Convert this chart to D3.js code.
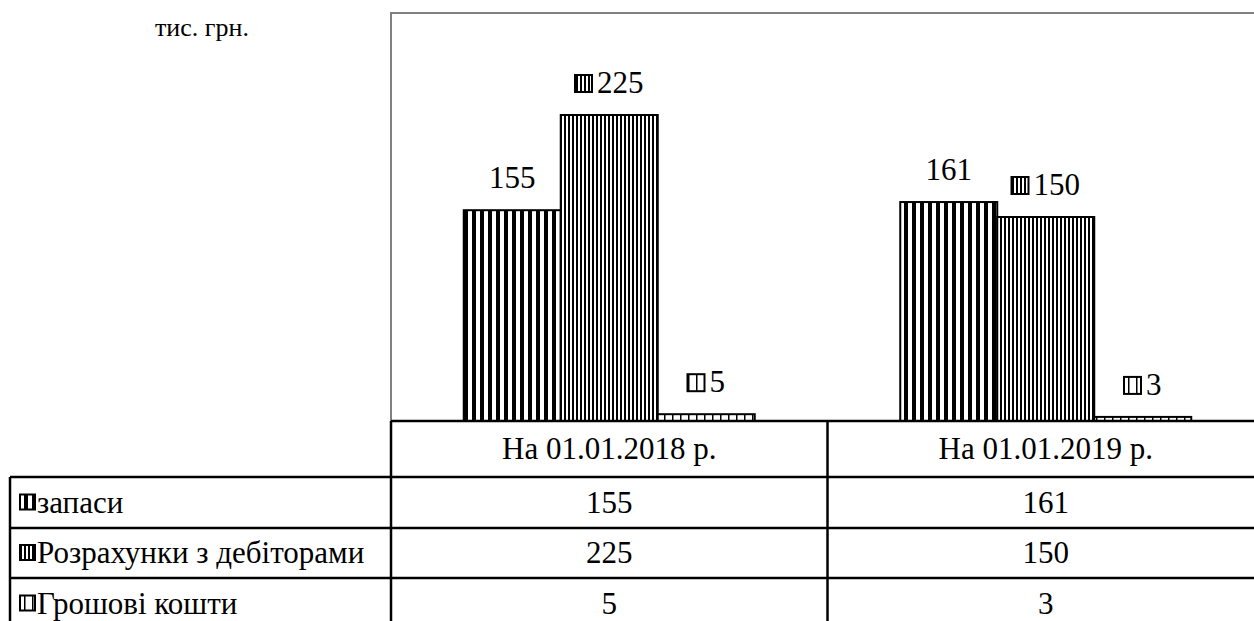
<!DOCTYPE html>
<html>
<head>
<meta charset="utf-8">
<script src="https://cdn.jsdelivr.net/npm/d3@7"></script>
</head>
<body style="margin:0">
<svg id="chart" width="1254" height="621"></svg>
<script>
// Categories (table columns) and series (table rows)
const categories = ["На 01.01.2018 р.", "На 01.01.2019 р."];
const seriesNames = ["запаси", "Розрахунки з дебіторами", "Грошові кошти"];
const zapasy = [155, 161];
const debitory = [225, 150];
const hroshi = [5, 3];
const seriesValues = [zapasy, debitory, hroshi];
const seriesPatterns = ["pat-wide", "pat-narrow", "pat-thin"];
const labelWithKey = [false, true, true];
const unitLabel = "тис. грн.";
const yDomain = [0, 300];

const faces = ["Liberation Serif"];
const FS = 31;
const svg = d3.select("#chart");
const W = 1254;

// Geometry of plot area + data table
const plotLeft = 391, plotTop = 13, baseY = 421;
const catWidth = 436.5;
const tableLeft = 10;
const rowLines = [421, 477, 528, 578];
const rowBottom = 640;

// Text helper: serif face, black
function txt(sel, size) {
  const f = faces[0];
  return sel.attr("font-size", size).style("font-family", `"${f}"`).attr("fill", "#000");
}

// Fill patterns
const defs = svg.append("defs");
function stripePattern(id, period, stripeW) {
  const p = defs.append("pattern")
    .attr("id", id).attr("patternUnits", "userSpaceOnUse")
    .attr("width", period).attr("height", 10);
  p.append("rect").attr("width", period).attr("height", 10).attr("fill", "#fff");
  p.append("rect").attr("x", 0).attr("width", stripeW).attr("height", 10).attr("fill", "#000");
}
stripePattern("pat-wide", 8, 4);
stripePattern("pat-narrow", 4, 2);
stripePattern("pat-thin", 8, 1.5);

const x = d3.scaleBand().domain(categories).range([plotLeft, plotLeft + catWidth * categories.length]);
const xs = d3.scaleBand().domain(d3.range(seriesNames.length))
  .range([0, x.bandwidth()]).paddingInner(0).paddingOuter(0.75);
const y = d3.scaleLinear().domain(yDomain).range([baseY, plotTop]);

// Plot area frame (gray)
svg.append("path")
  .attr("d", `M${plotLeft},${baseY} V${plotTop} H${W + 10}`)
  .attr("fill", "none").attr("stroke", "#808080").attr("stroke-width", 2);

// Unit caption
txt(svg.append("text").attr("x", 155).attr("y", 36), 26).text(unitLabel);

// Bars
seriesValues.forEach((vals, si) => {
  svg.append("g").selectAll("rect").data(vals).join("rect")
    .attr("x", (d, i) => x(categories[i]) + xs(si))
    .attr("y", d => y(d))
    .attr("width", xs.bandwidth())
    .attr("height", d => y(0) - y(d))
    .attr("fill", `url(#${seriesPatterns[si]})`)
    .attr("stroke", "#000").attr("stroke-width", 2);
});

// Key swatch: box filled with the series pattern
function keyBox(g, x0, y0, size, si) {
  g.append("rect").attr("x", x0).attr("y", y0).attr("width", size).attr("height", size)
    .attr("fill", `url(#${seriesPatterns[si]})`);
  g.append("rect").attr("x", x0).attr("y", y0).attr("width", size).attr("height", size)
    .attr("fill", "none").attr("stroke", "#000").attr("stroke-width", 2);
}

// Data labels (digits advance by half an em)
const keySize = 17, keyGap = 5;
seriesValues.forEach((vals, si) => {
  vals.forEach((v, i) => {
    const cx = x(categories[i]) + xs(si) + xs.bandwidth() / 2;
    const by = y(v) - 22;
    const g = svg.append("g");
    const t = txt(g.append("text").attr("y", by), FS).text(v);
    if (labelWithKey[si]) {
      const tw = String(v).length * FS * 0.5;
      const total = keySize + keyGap + tw;
      const x0 = cx - total / 2;
      keyBox(g, x0, by - keySize - 1, keySize, si);
      t.attr("x", x0 + keySize + keyGap);
    } else {
      t.attr("x", cx).attr("text-anchor", "middle");
    }
  });
});

// Data table
const tbl = svg.append("g").attr("stroke", "#000").attr("stroke-width", 2.5).attr("fill", "none");
tbl.append("line").attr("x1", plotLeft).attr("x2", W + 10).attr("y1", rowLines[0]).attr("y2", rowLines[0]);
rowLines.slice(1).forEach(ry => {
  tbl.append("line").attr("x1", tableLeft).attr("x2", W + 10).attr("y1", ry).attr("y2", ry);
});
tbl.append("line").attr("x1", tableLeft).attr("x2", tableLeft).attr("y1", rowLines[1]).attr("y2", rowBottom);
categories.forEach(c => {
  tbl.append("line").attr("x1", x(c)).attr("x2", x(c)).attr("y1", rowLines[0]).attr("y2", rowBottom);
});
tbl.append("line").attr("x1", x(categories[1]) + x.bandwidth()).attr("x2", x(categories[1]) + x.bandwidth())
  .attr("y1", rowLines[0]).attr("y2", rowBottom);

const rowTops = [rowLines[0], rowLines[1], rowLines[2], rowLines[3]];
const rowBottoms = [rowLines[1], rowLines[2], rowLines[3], rowLines[3] + 51];
const textOff = 10;

// Header row: category names
categories.forEach(c => {
  txt(svg.append("text")
    .attr("x", x(c) + x.bandwidth() / 2)
    .attr("y", (rowTops[0] + rowBottoms[0]) / 2 + textOff)
    .attr("text-anchor", "middle"), FS)
    .text(c);
});

// Series rows
seriesNames.forEach((name, si) => {
  const r = si + 1;
  const cy = (rowTops[r] + rowBottoms[r]) / 2;
  keyBox(svg.append("g"), 20, cy - 8, 15, si);
  txt(svg.append("text").attr("x", 37).attr("y", cy + textOff), FS).text(name);
  seriesValues[si].forEach((v, i) => {
    txt(svg.append("text")
      .attr("x", x(categories[i]) + x.bandwidth() / 2)
      .attr("y", cy + textOff)
      .attr("text-anchor", "middle"), FS)
      .text(v);
  });
});
</script>
</body>
</html>
